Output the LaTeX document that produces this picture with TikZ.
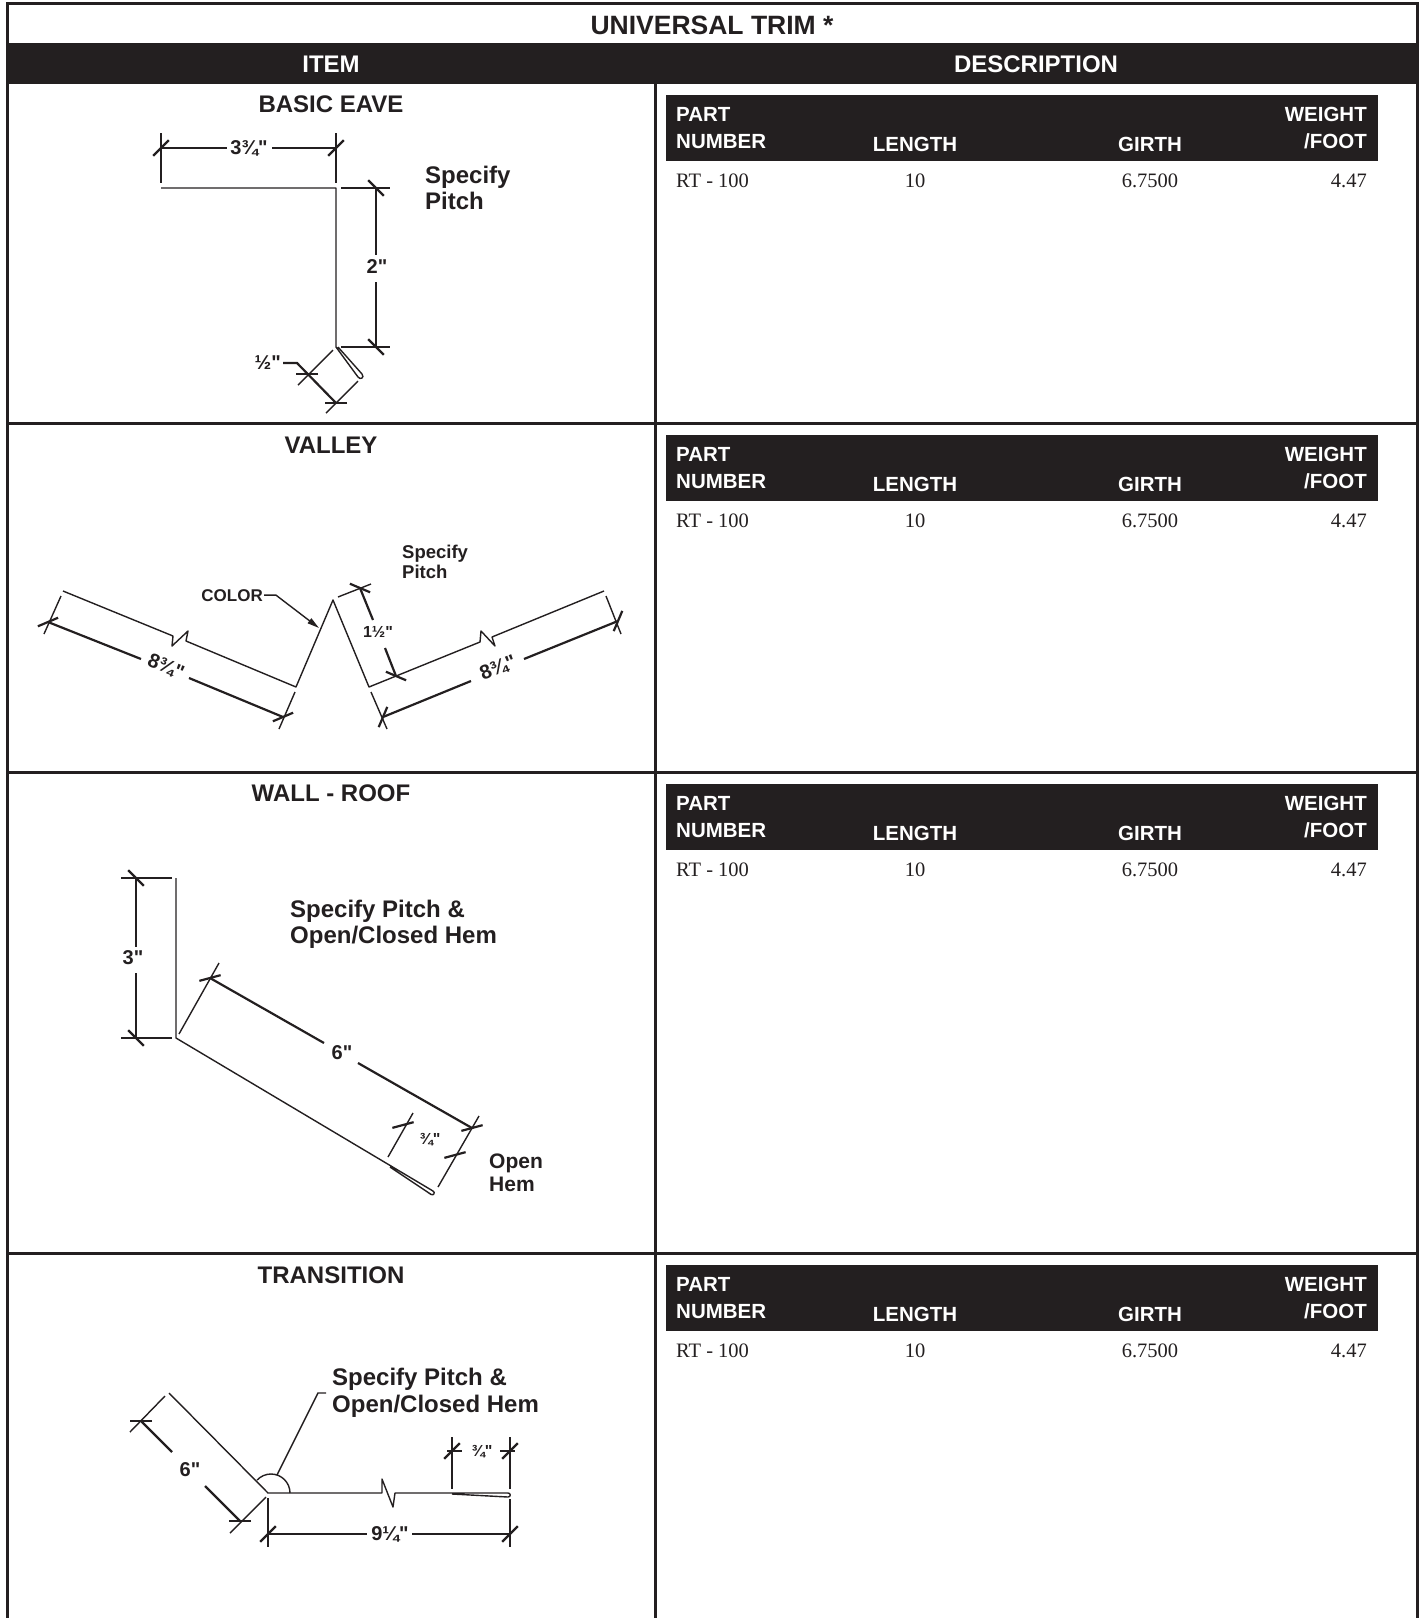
\documentclass[tikz,border=0pt]{standalone}
\usepackage{fontspec}
\setmainfont[Ligatures=TeXOff]{Liberation Sans}
\newfontfamily\serf{Liberation Serif}
\usetikzlibrary{arrows.meta}

\definecolor{ink}{HTML}{231F20}
\tikzset{
  rule/.style={draw=ink, line width=3pt},
  ttl/.style={font=\fontsize{24}{28}\selectfont\bfseries, text=ink, inner sep=0pt},
  colhd/.style={font=\fontsize{20.5}{24}\selectfont\bfseries, text=white, inner sep=0pt},
  cell/.style={font=\serf\fontsize{20.5}{24}\selectfont, text=ink, inner sep=0pt},
  note/.style={font=\fontsize{24}{26}\selectfont\bfseries, text=ink, inner sep=0pt},
  part/.style={draw=ink, line width=1.4pt, line join=round},
  ext/.style={draw=ink, line width=1.4pt},
  dimln/.style={draw=ink, line width=2.2pt},
  dlbl/.style={font=\fontsize{20}{22}\selectfont\bfseries, text=ink, inner sep=0pt},
  slbl/.style={font=\fontsize{16}{18}\selectfont\bfseries, text=ink, inner sep=0pt}
}
\newcommand{\tck}[2]{\draw[dimln] #1 ++(#2+45:11) -- ++(#2+225:22);}

\begin{document}
\begin{tikzpicture}[x=1pt,y=1pt]
\useasboundingbox (0,0) rectangle (1426,-1618);

\fill[ink] (7,-43) rectangle (1417,-84);
\draw[rule] (7,-1618) -- (7,-3) -- (1417,-3) -- (1417,-1618);
\draw[rule] (655,-84) -- (655,-1618);
\draw[rule] (7,-423) -- (1417,-423);
\draw[rule] (7,-772) -- (1417,-772);
\draw[rule] (7,-1253) -- (1417,-1253);
\node[ttl, font=\fontsize{26.5}{30}\selectfont\bfseries, anchor=base] (title) at (712,-34) {UNIVERSAL TRIM *};
\node[ttl, text=white, anchor=base] (item) at (331,-72) {ITEM};
\node[ttl, text=white, anchor=base] (desc) at (1036,-72) {DESCRIPTION};

\foreach \t [count=\i] in {95,435,784,1265} {
  \fill[ink] (666,-\t) rectangle (1378,-\t-66);
  \node[colhd, anchor=base west] (part\i) at (676,-\t-26) {PART};
  \node[colhd, anchor=base west] (number\i) at (676,-\t-53) {NUMBER};
  \node[colhd, anchor=base] (length\i) at (915,-\t-56) {LENGTH};
  \node[colhd, anchor=base] (girth\i) at (1150,-\t-56) {GIRTH};
  \node[colhd, anchor=base east] (weight\i) at (1367,-\t-26) {WEIGHT};
  \node[colhd, anchor=base east] (foot\i) at (1367,-\t-53) {/FOOT};
  \node[cell, anchor=base west] (pn\i) at (676,-\t-92) {RT - 100};
  \node[cell, anchor=base] (len\i) at (915,-\t-92) {10};
  \node[cell, anchor=base] (gir\i) at (1150,-\t-92) {6.7500};
  \node[cell, anchor=base east] (wt\i) at (1367,-\t-92) {4.47};
}

\node[ttl, anchor=base] (eave) at (331,-112) {BASIC EAVE};
\draw[part] (161,-188) -- (336,-188) -- (336,-347) -- (358,-377)
  .. controls (360,-380) and (365,-378) .. (362,-374) -- (338,-347);
\draw[ext] (161,-133) -- (161,-183);
\draw[ext] (336,-133) -- (336,-183);
\draw[ext] (341,-188) -- (390,-188);
\draw[ext] (341,-347) -- (390,-347);
\draw[ext] (333,-350) -- (298,-385);
\draw[ext] (358,-381) -- (326,-413);
\draw[dimln] (161,-148) -- (227,-148) (272,-148) -- (336,-148);
\draw[dimln] (376,-188) -- (376,-255) (376,-282) -- (376,-347);
\draw[dimln] (283,-363) -- (297,-363) -- (336,-403);
\tck{(161,-148)}{0} \tck{(336,-148)}{0}
\tck{(376,-188)}{90} \tck{(376,-347)}{90}
\tck{(307,-374)}{-45} \tck{(336,-403)}{-45}
\node[dlbl] (e34) at (249,-148) {3¾"};
\node[dlbl] (e2) at (377,-267) {2"};
\node[dlbl, anchor=east] (e12) at (281,-363) {½"};
\node[note, anchor=base west] (ep1) at (425,-183) {Specify};
\node[note, anchor=base west] (ep2) at ([yshift=-26pt]ep1.base west) {Pitch};

\node[ttl, anchor=base] (valley) at (331,-453) {VALLEY};
\draw[part] (63,-591) -- (173,-636) -- (172,-646) -- (188,-631) -- (186,-641)
  -- (296,-687) -- (333,-600) -- (369,-687) -- (480,-642) -- (481,-631)
  -- (495,-646) -- (492,-637) -- (604,-591);
\draw[ext] (61,-596) -- (44,-634);
\draw[ext] (295,-692) -- (279,-729);
\draw[ext] (371,-692) -- (387,-729);
\draw[ext] (606,-596) -- (621,-634);
\draw[ext] (338,-597) -- (371,-584);
\draw[dimln] (48,-622) -- (141,-659) (189,-678) -- (283,-717);
\draw[dimln] (383,-717) -- (471,-681) (524,-659) -- (618,-621);
\draw[dimln] (360,-588) -- (373,-620) (385,-648) -- (396,-676);
\tck{(48,-622)}{-22} \tck{(283,-717)}{-22}
\tck{(383,-717)}{22} \tck{(618,-621)}{22}
\tck{(360,-588)}{-68} \tck{(396,-676)}{-68}
\node[dlbl, rotate=-22] (v1) at (166,-667) {8¾"};
\node[dlbl, rotate=22] (v2) at (498,-668) {8¾"};
\node[slbl] (v3) at (378,-632) {1½"};
\node[note, font=\fontsize{18.5}{20}\selectfont\bfseries, anchor=base west] (vp1) at (402,-558) {Specify};
\node[note, font=\fontsize{18.5}{20}\selectfont\bfseries, anchor=base west] (vp2) at ([yshift=-20pt]vp1.base west) {Pitch};
\node[note, font=\fontsize{17}{19}\selectfont\bfseries, anchor=base east] (vcolor) at (263,-601) {COLOR};
\draw[ext, -{Triangle[length=12pt,width=6pt]}] ([xshift=1pt]vcolor.east) -- ++(12,0) -- (319,-628);

\node[ttl, anchor=base] (wallroof) at (331,-801) {WALL - ROOF};
\draw[part] (176,-878) -- (176,-1038) -- (433,-1191)
  .. controls (435.6,-1192.5) and (433.6,-1196) .. (431,-1194.4) -- (390,-1167);
\draw[ext] (121,-878) -- (172,-878);
\draw[ext] (121,-1038) -- (172,-1038);
\draw[ext] (179,-1034) -- (219,-963);
\draw[ext] (438,-1187) -- (479,-1116);
\draw[ext] (388,-1157) -- (413,-1113);
\draw[dimln] (136,-878) -- (136,-947) (136,-973) -- (136,-1038);
\draw[dimln] (210,-978) -- (324,-1043) (358,-1063) -- (472,-1128);
\tck{(136,-878)}{90} \tck{(136,-1038)}{90}
\tck{(210,-978)}{-30} \tck{(472,-1128)}{-30}
\tck{(403,-1125)}{-30} \tck{(455,-1155)}{-30}
\node[dlbl] (w3) at (133,-958) {3"};
\node[dlbl] (w6) at (342,-1053) {6"};
\node[slbl] (w34) at (430,-1140) {¾"};
\node[note, anchor=base west] (wp1) at (290,-917) {Specify Pitch \&};
\node[note, anchor=base west] (wp2) at ([yshift=-26pt]wp1.base west) {Open/Closed Hem};
\node[note, font=\fontsize{21}{23}\selectfont\bfseries, anchor=base west] (wh1) at (489,-1168) {Open};
\node[note, font=\fontsize{21}{23}\selectfont\bfseries, anchor=base west] (wh2) at ([yshift=-23pt]wh1.base west) {Hem};

\node[ttl, anchor=base] (transition) at (331,-1283) {TRANSITION};
\draw[part] (169,-1393) -- (268,-1493) -- (382,-1493) -- (382,-1479) -- (393,-1507)
  -- (395,-1493) -- (508,-1493) .. controls (511,-1493) and (511,-1497) .. (508,-1497) -- (452,-1494);
\draw[part] (290,-1493) arc[start angle=0, end angle=137, radius=19];
\draw[ext] (277,-1475) -- (318,-1393) -- (326,-1393);
\draw[ext] (165,-1396) -- (130,-1432);
\draw[ext] (266,-1497) -- (230,-1533);
\draw[ext] (268,-1498) -- (268,-1547);
\draw[ext] (510,-1499) -- (510,-1547);
\draw[ext] (452,-1437) -- (452,-1489);
\draw[ext] (510,-1437) -- (510,-1489);
\draw[dimln] (141,-1421) -- (172,-1452) (205,-1486) -- (240,-1521);
\draw[dimln] (268,-1534) -- (367,-1534) (412,-1534) -- (510,-1534);
\draw[dimln] (447,-1451) -- (462,-1451) (500,-1451) -- (515,-1451);
\tck{(141,-1421)}{-45} \tck{(240,-1521)}{-45}
\tck{(268,-1534)}{0} \tck{(510,-1534)}{0}
\tck{(452,-1451)}{0} \tck{(510,-1451)}{0}
\node[dlbl] (t6) at (190,-1470) {6"};
\node[dlbl] (t94) at (390,-1534) {9¼"};
\node[slbl] (t34) at (482,-1452) {¾"};
\node[note, anchor=base west] (tp1) at (332,-1385) {Specify Pitch \&};
\node[note, anchor=base west] (tp2) at ([yshift=-27pt]tp1.base west) {Open/Closed Hem};
\end{tikzpicture}
\end{document}
